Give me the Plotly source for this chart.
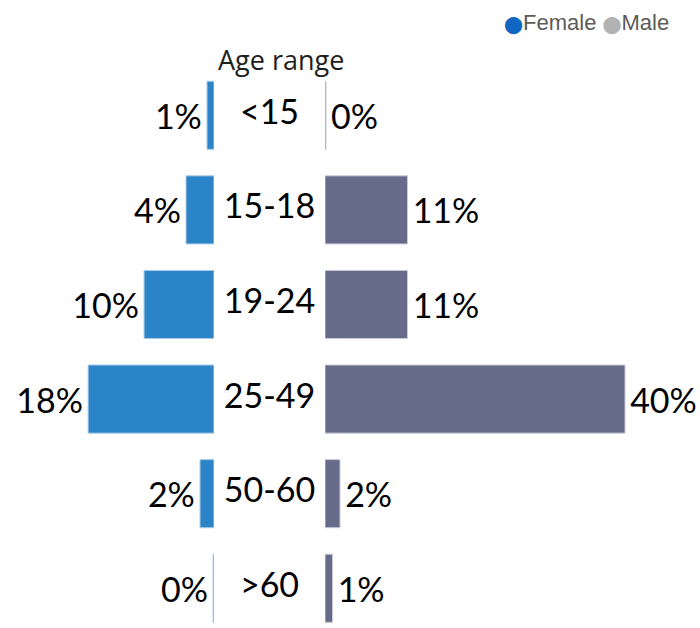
import plotly.graph_objects as go

age_ranges = ["<15", "15-18", "19-24", "25-49", "50-60", ">60"]
female_pct = [1, 4, 10, 18, 2, 0]
male_pct = [0, 11, 11, 40, 2, 1]

FEMALE_COLOR = "#2B84C7"
MALE_COLOR = "#666B8A"
FEMALE_LEGEND = "#1166C2"
MALE_LEGEND = "#B2B2B2"
MIN_VISIBLE = 0.13  # keeps 0% bars as a hairline, as in the reference

FONT = "Lato, Noto Sans, sans-serif"
HAIR = "\u200a"

fig = go.Figure()

fig.add_trace(go.Bar(
    y=age_ranges, x=[max(v, MIN_VISIBLE) for v in female_pct],
    orientation="h", xaxis="x", yaxis="y",
    marker=dict(color=FEMALE_COLOR, line=dict(color="#A9CBEA", width=1)),
    text=[f"{v}%{HAIR}" for v in female_pct], textposition="outside",
    textfont=dict(family=FONT, size=34, color="#000000"),
    cliponaxis=False, width=0.72, showlegend=False, hoverinfo="skip",
))

fig.add_trace(go.Bar(
    y=age_ranges, x=[max(v, MIN_VISIBLE) for v in male_pct],
    orientation="h", xaxis="x3", yaxis="y",
    marker=dict(color=MALE_COLOR, line=dict(color="#C9CBDA", width=1)),
    text=[f"{HAIR}{v}%" for v in male_pct], textposition="outside",
    textfont=dict(family=FONT, size=34, color="#000000"),
    cliponaxis=False, width=0.72, showlegend=False, hoverinfo="skip",
))

fig.add_trace(go.Scatter(
    y=age_ranges, x=[0] * len(age_ranges), mode="text",
    text=age_ranges, textposition="middle center",
    textfont=dict(family=FONT, size=34, color="#000000"),
    xaxis="x2", yaxis="y", showlegend=False, hoverinfo="skip",
    cliponaxis=False,
))

hidden = dict(showgrid=False, zeroline=False, showticklabels=False,
              showline=False, ticks="")

fig.update_layout(
    width=700, height=628,
    margin=dict(l=0, r=0, t=68, b=0),
    paper_bgcolor="white", plot_bgcolor="white",
    xaxis=dict(domain=[0, 0.3057], range=[30.6, 0], **hidden),
    xaxis2=dict(domain=[0.3057, 0.4643], range=[-1, 1], **hidden),
    xaxis3=dict(domain=[0.4643, 1.0], range=[0, 50], **hidden),
    yaxis=dict(type="category", categoryorder="array", categoryarray=age_ranges,
               range=[5.42, -0.5], **hidden),
    showlegend=False,
    annotations=[
        dict(text="Age range", xref="paper", yref="paper", x=0.401, y=1.0,
             yshift=9, xanchor="center", yanchor="middle", showarrow=False,
             font=dict(family="Open Sans, sans-serif", size=27, color="#1E1E1E")),
        dict(text=(f"<span style='color:{FEMALE_LEGEND};font-family:DejaVu Sans;font-size:17px'>⬤</span>Female "
                   f"<span style='color:{MALE_LEGEND};font-family:DejaVu Sans;font-size:17px'>⬤</span>Male"),
             xref="paper", yref="paper", x=0.958, y=1.0, yshift=46,
             xanchor="right", yanchor="middle", showarrow=False,
             font=dict(family="Liberation Sans, Arial, sans-serif", size=22,
                       color="#5E5A58")),
    ],
)

fig.write_html("out.html", config={"displayModeBar": False},
               post_script="document.body.style.margin='0px';")
